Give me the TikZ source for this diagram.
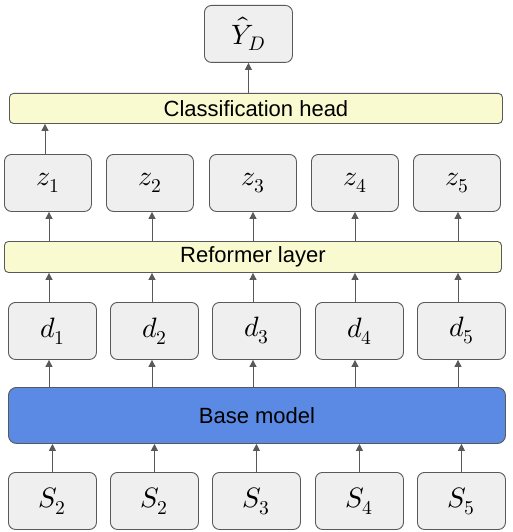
\documentclass[tikz,border=0pt]{standalone}
\usepackage{fontspec}
\usepackage{unicode-math}
\setmainfont{Liberation Sans}
\setmathfont{Latin Modern Math}
\usetikzlibrary{arrows.meta}
\definecolor{boxfill}{HTML}{EFEFEF}
\definecolor{boxline}{HTML}{595959}
\definecolor{yel}{HTML}{F9FAD0}
\definecolor{blu}{HTML}{5A8AE4}
\begin{document}
\begin{tikzpicture}[x=1pt,y=-1pt,
  box/.style={draw=boxline,fill=boxfill,line width=0.9pt,rounded corners=7pt,anchor=north west,inner sep=0pt,
    minimum width=88pt,minimum height=57pt,font=\fontsize{28}{32}\selectfont},
  bar/.style={draw=boxline,line width=0.9pt,rounded corners=4pt,anchor=north west,inner sep=0pt,
    font=\fontsize{22}{26}\selectfont},
  arr/.style={draw=boxline,line width=0.9pt,-{Triangle[length=7pt,width=7pt]}}]
\useasboundingbox (0,0) rectangle (512,532);
% output
\node[box] (yhat) at (204,5) {$\hat{Y}_D$};
\node[bar,fill=yel,minimum width=493pt,minimum height=30pt] (head) at (9,93) {Classification head};
% z row
\foreach \i/\x in {1/4,2/106,3/209,4/311,5/413}
  \node[box,minimum width=87pt] (z\i) at (\x,154) {$z_\i$};
\node[bar,fill=yel,minimum width=497pt,minimum height=31pt] (ref) at (4,241) {Reformer layer};
% d row
\foreach \i/\x in {1/8,2/110,3/212,4/315,5/417}
  \node[box] (d\i) at (\x,302) {$d_\i$};
\node[bar,fill=blu,rounded corners=8pt,minimum width=497pt,minimum height=56pt] (base) at (8,387) {Base model};
% S row
\node[box] (s1) at (8,472) {$S_2$};
\node[box] (s2) at (110,472) {$S_2$};
\node[box] (s3) at (212,472) {$S_3$};
\node[box] (s4) at (315,472) {$S_4$};
\node[box] (s5) at (417,472) {$S_5$};
% arrow columns
\foreach \i/\x in {1/49,2/152,3/253,4/355,5/458}
  \coordinate (ax\i) at (\x,0);
\coordinate (ahead) at (45,0);
% connectors
\draw[arr] (head.north -| yhat) -- (yhat.south);
\draw[arr] (z1.north -| ahead) -- (head.south -| ahead);
\foreach \i in {1,...,5}{
  \draw[arr] (ref.north -| ax\i) -- (z\i.south -| ax\i);
  \draw[arr] (d\i.north -| ax\i) -- (ref.south -| ax\i);
  \draw[arr] (base.north -| ax\i) -- (d\i.south -| ax\i);
  \draw[arr] (s\i.north) -- (base.south -| s\i);
}
\end{tikzpicture}
\end{document}
